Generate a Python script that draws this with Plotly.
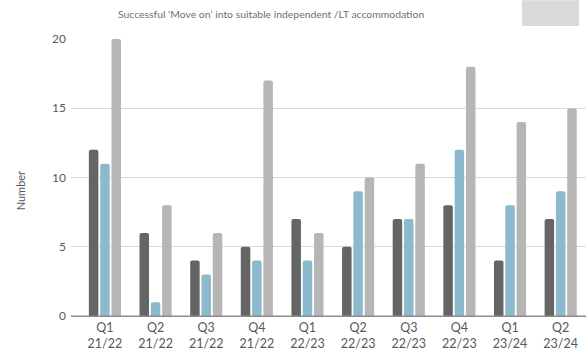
import plotly.graph_objects as go

# Quarterly counts of successful move-ons
quarters = ["Q1<br>21/22", "Q2<br>21/22", "Q3<br>21/22", "Q4<br>21/22",
            "Q1<br>22/23", "Q2<br>22/23", "Q3<br>22/23", "Q4<br>22/23",
            "Q1<br>23/24", "Q2<br>23/24"]
series_a = [12, 6, 4, 5, 7, 5, 7, 8, 4, 7]
series_b = [11, 1, 3, 4, 4, 9, 7, 12, 8, 9]
series_c = [20, 8, 6, 17, 6, 10, 11, 18, 14, 15]
y_ticks = [0, 5, 10, 15, 20]

colors = ["#656565", "#8cb9cb", "#b6b6b6"]
font_family = "Lato, 'Open Sans', sans-serif"
text_color = "#595959"

fig = go.Figure()
for vals, col in zip([series_a, series_b, series_c], colors):
    fig.add_trace(go.Bar(
        x=list(range(len(quarters))), y=vals,
        marker=dict(color=col, line=dict(width=0)),
        hoverinfo="y", showlegend=False,
    ))

fig.update_layout(
    width=586, height=351,
    margin=dict(l=71, r=0, t=39, b=33),
    paper_bgcolor="white", plot_bgcolor="white",
    barmode="group", bargap=0.33, bargroupgap=0.16,
    barcornerradius=2,
    font=dict(family=font_family, size=12, color=text_color),
    xaxis=dict(
        tickmode="array", tickvals=list(range(len(quarters))), ticktext=quarters,
        range=[-0.67, 9.5], showgrid=False, zeroline=False,
        showline=True, linecolor="#8c8c8c", linewidth=1,
        ticks="", tickfont=dict(size=12.5, color=text_color),
    ),
    yaxis=dict(
        range=[0, 20], tickvals=y_ticks, showgrid=True,
        gridcolor="#d9d9d9", gridwidth=1, zeroline=False,
        showline=False, ticks="", ticklabelstandoff=4,
        tickfont=dict(size=12, color=text_color),
    ),
    annotations=[
        dict(text="Successful 'Move on' into suitable independent /LT accommodation",
             xref="paper", yref="paper", x=(271 - 71) / 515, y=1,
             yshift=25, xanchor="center", yanchor="middle", showarrow=False,
             font=dict(size=10.4, color="#6f6f6f")),
        dict(text="Number", xref="paper", yref="paper", x=0, y=0.45,
             xshift=-51, textangle=-90, xanchor="center", yanchor="middle",
             showarrow=False, font=dict(size=11, color=text_color)),
    ],
    shapes=[
        dict(type="rect", xref="paper", yref="paper",
             x0=(522 - 71) / 515, x1=(579 - 71) / 515,
             y0=1 + (39 - 26) / 279, y1=1 + 39 / 279,
             fillcolor="#d9d9d9", line=dict(width=0), layer="above"),
        dict(type="line", xref="paper", yref="y", x0=0, x1=1, y0=0, y1=0,
             line=dict(color="#8c8c8c", width=1), layer="above"),
    ],
)

fig.write_html("out.html")
